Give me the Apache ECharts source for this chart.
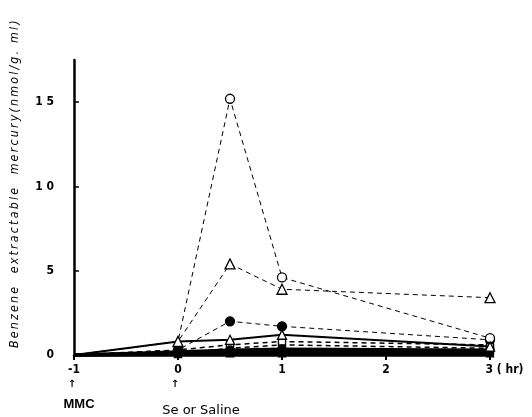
<!DOCTYPE html>
<html><head><meta charset="utf-8">
<script src="https://cdn.jsdelivr.net/npm/echarts@6/dist/echarts.min.js"></script>
<style>html,body{margin:0;padding:0;background:#fff}#c{width:532px;height:417px}</style>
</head><body><div id="c"></div>
<script>
// Time points (hr)
var times = [-1, 0, 0.5, 1, 3];
var xTicks = [-1, 0, 1, 2, 3];
var yTicks = [0, 5, 10, 15];
// Series values (nmol/g.ml)
var openCircleDashed   = [0, 0.8, 15.2, 4.6, 1.0];
var openTriangleDashed = [0, 0.8, 5.4, 3.9, 3.4];
var filledCircleDashed = [0, 0.3, 2.0, 1.7, 0.9];
var openTriangleSolid  = [0, 0.8, 0.9, 1.2, 0.5];
var openSquareDashedA  = [0, 0.3, 0.6, 0.8, 0.6];
var openSquareDashedB  = [0, 0.1, 0.4, 0.6, 0.4];
var filledCircleSolid  = [0, 0.2, 0.3, 0.35, 0.3];
var filledSquareSolid  = [0, 0.1, 0.15, 0.2, 0.2];
var filledTriangleSolid= [0, 0.05, 0.1, 0.1, 0.1];

function pts(vals){ return times.map(function(t,i){ return [t, vals[i]]; }); }

function mk(vals, symbol, filled, dashed, width, size, z){
  return {
    type:'line', data: pts(vals), symbol: symbol, symbolSize: size,
    showAllSymbol:true, animation:false,
    lineStyle:{color:'#000', width: width, type: dashed ? [5,4] : 'solid'},
    itemStyle:{color: filled ? '#000' : '#fff', borderColor:'#000', borderWidth: 1.3},
    z: z
  };
}
// hide markers that are covered in the original figure
function hide(s, idxs){ idxs.forEach(function(i){ s.data[i] = {value: s.data[i], symbol:'none'}; }); return s; }

var series = [
  hide(mk(openSquareDashedB,'rect',false,true,1.5,7,2),[0,1]),
  hide(mk(openSquareDashedA,'rect',false,true,1.5,7,2),[0,1]),
  hide(mk(filledTriangleSolid,'triangle',true,false,3.5,7,3),[0]),
  hide(mk(filledSquareSolid,'rect',true,false,3.5,7,3),[0]),
  hide(mk(filledCircleSolid,'circle',true,false,3,8,3),[0]),
  hide(mk(filledCircleDashed,'circle',true,true,1,9,4),[0]),
  hide(mk(openCircleDashed,'circle',false,true,1,9,4),[0,1]),
  hide(mk(openTriangleSolid,'triangle',false,false,2,9,5),[0]),
  hide(mk(openTriangleDashed,'triangle',false,true,1,10,5),[0])
];

function spaced(s){ return s.split('').join('\u2009'); }

var chart = echarts.init(document.getElementById('c'), null, {renderer:'canvas'});
var tickFont = {color:'#000', fontFamily:'DejaVu Sans Condensed, Liberation Sans Narrow, sans-serif', fontWeight:'bold', fontSize:12};
chart.setOption({
  backgroundColor:'#fff',
  animation:false,
  grid:{left:74, right:42, top:60, bottom:62},
  xAxis:{
    type:'value', min:-1, max:3, interval:1,
    axisLine:{show:true, onZero:false, lineStyle:{color:'#000', width:2.5}},
    axisTick:{show:true, length:5, inside:false, lineStyle:{color:'#000', width:2}},
    splitLine:{show:false},
    axisLabel:Object.assign({margin:9, customValues: xTicks,
      formatter:function(v){ return v===3 ? '{h|3 ( hr)}' : String(v); },
      rich:{h:{fontFamily:'DejaVu Sans Condensed, sans-serif', fontWeight:'bold', fontSize:12, color:'#000', padding:[0,0,0,29]}}
    }, tickFont)
  },
  yAxis:{
    type:'value', min:0, max:17.5, interval:5,
    axisLine:{show:true, onZero:false, lineStyle:{color:'#000', width:2.5}},
    axisTick:{show:true, length:5, inside:true, customValues: yTicks, lineStyle:{color:'#000', width:1.5}},
    splitLine:{show:false},
    axisLabel:Object.assign({margin:20, customValues: yTicks, formatter:function(v){ return String(v).split('').join(' '); }}, tickFont)
  },
  series: series,
  graphic:[
    {type:'text', x:9, y:348, rotation:Math.PI/2, style:{
      text: spaced('Benzene  extractable  mercury(nmol/g. ml)'), fill:'#000',
      font:'italic 12.3px "DejaVu Sans Condensed", sans-serif', textVerticalAlign:'top'}},
    {type:'text', x:72, y:379, style:{text:'↑', fill:'#000', font:'bold 10px "DejaVu Sans", sans-serif', textAlign:'center'}},
    {type:'text', x:175, y:379, style:{text:'↑', fill:'#000', font:'bold 10px "DejaVu Sans", sans-serif', textAlign:'center'}},
    {type:'text', x:79, y:398, style:{text:'MMC', fill:'#000', font:'bold 13px "Liberation Sans", sans-serif', textAlign:'center'}},
    {type:'text', x:201, y:404, style:{text:'Se or Saline', fill:'#000', font:'13px "DejaVu Sans", sans-serif', textAlign:'center'}}
  ]
});
</script></body></html>
